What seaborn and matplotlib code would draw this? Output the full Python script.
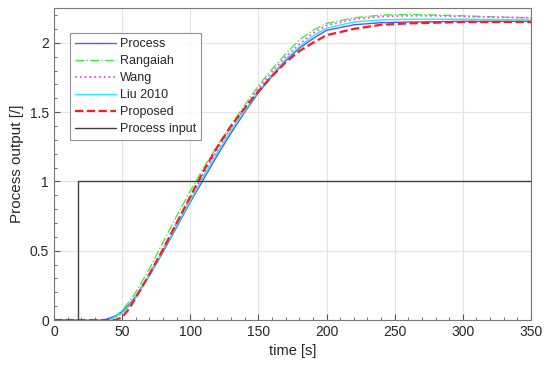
import numpy as np
import pandas as pd
import seaborn as sns
import matplotlib
matplotlib.use("Agg")
import matplotlib.pyplot as plt
from matplotlib.ticker import MultipleLocator, FormatStrFormatter

# time samples [s]
t = [0, 30, 36, 40, 45, 50, 55, 60, 70, 80, 90, 100, 110, 120, 130, 140, 150,
     160, 170, 180, 190, 200, 220, 240, 260, 280, 300, 325, 350]

process = [0, 0, 0, 0.01, 0.03, 0.06, 0.11, 0.17, 0.32, 0.49, 0.67, 0.85, 1.02, 1.19, 1.35, 1.50, 1.64,
           1.76, 1.87, 1.96, 2.03, 2.09, 2.13, 2.145, 2.15, 2.152, 2.155, 2.155, 2.155]
rangaiah = [0, 0, 0, 0.0, 0.025, 0.07, 0.13, 0.20, 0.37, 0.56, 0.75, 0.93, 1.10, 1.26, 1.41, 1.55, 1.69,
            1.81, 1.92, 2.02, 2.09, 2.14, 2.18, 2.20, 2.205, 2.20, 2.195, 2.185, 2.18]
wang = [0, 0, 0, 0.0, 0.02, 0.05, 0.10, 0.17, 0.33, 0.51, 0.70, 0.88, 1.06, 1.23, 1.39, 1.53, 1.67,
        1.79, 1.90, 1.99, 2.07, 2.125, 2.17, 2.19, 2.195, 2.195, 2.19, 2.185, 2.18]
liu = [0, 0, 0, 0.0, 0.02, 0.05, 0.10, 0.16, 0.32, 0.50, 0.68, 0.86, 1.04, 1.21, 1.37, 1.51, 1.65,
       1.77, 1.88, 1.97, 2.05, 2.105, 2.15, 2.165, 2.17, 2.17, 2.17, 2.167, 2.165]
proposed = [0, 0, 0, 0, 0, 0.02, 0.08, 0.16, 0.33, 0.51, 0.70, 0.89, 1.08, 1.25, 1.40, 1.53, 1.65,
            1.76, 1.86, 1.94, 2.00, 2.055, 2.10, 2.13, 2.14, 2.145, 2.15, 2.15, 2.15]

# step input
t_in = [0, 18, 18, 350]
u_in = [0, 0, 1, 1]

series = {"Process": process, "Rangaiah": rangaiah, "Wang": wang,
          "Liu 2010": liu, "Proposed": proposed}
df = pd.DataFrame({"time": t * len(series),
                   "y": sum(series.values(), []),
                   "name": sum([[k] * len(t) for k in series], [])})

sns.set_style("white")
plt.rcParams['font.family'] = ['Arial', 'Liberation Sans', 'DejaVu Sans']

fig = plt.figure(figsize=(5.5, 3.7), dpi=100)
ax = fig.add_axes([0.098, 0.135, 0.8675, 0.843])

styles = {
    "Process": dict(color="#5555ff", ls="-", lw=1.0),
    "Rangaiah": dict(color="#44ee44", ls="-.", lw=1.0),
    "Wang": dict(color="#ff44ff", ls=":", lw=1.3),
    "Liu 2010": dict(color="#22eeee", ls="-", lw=1.0),
    "Proposed": dict(color="#ff1a1a", ls="--", lw=1.6),
}
for name in series:
    sub = df[df["name"] == name]
    st = styles[name]
    sns.lineplot(data=sub, x="time", y="y", ax=ax, color=st["color"], linestyle=st["ls"],
                 linewidth=st["lw"], label=name)
sns.lineplot(x=t_in, y=u_in, ax=ax, color="#404040", linewidth=1.0, label="Process input",
             sort=False, estimator=None)

ax.set_xlim(0, 350)
ax.set_ylim(0, 2.25)
ax.xaxis.set_major_locator(MultipleLocator(50))
ax.xaxis.set_minor_locator(MultipleLocator(10))
ax.yaxis.set_major_locator(MultipleLocator(0.5))
ax.yaxis.set_minor_locator(MultipleLocator(0.1))
ax.yaxis.set_major_formatter(FormatStrFormatter("%g"))
ax.tick_params(which="both", direction="in", colors="#555555", labelcolor="#262626",
               labelsize=10, bottom=True, left=True)
ax.tick_params(which="major", length=4)
ax.tick_params(which="minor", length=2.5)
ax.grid(True, which="major", color="#e3e3e3", linewidth=0.8)
for sp in ax.spines.values():
    sp.set_color("#777777")
    sp.set_linewidth(0.8)

ax.set_xlabel("time [s]", fontsize=10.5, color="#262626")
ax.set_ylabel("Process output [/]", fontsize=11, color="#262626")

leg = ax.legend(loc="upper left", bbox_to_anchor=(0.034, 0.92), fontsize=9, frameon=True,
                fancybox=False, edgecolor="#777777", handlelength=3.3, handletextpad=0.3,
                labelspacing=0.4, borderpad=0.4, borderaxespad=0)
leg.get_frame().set_linewidth(0.8)

fig.savefig("out.png", dpi=100)
